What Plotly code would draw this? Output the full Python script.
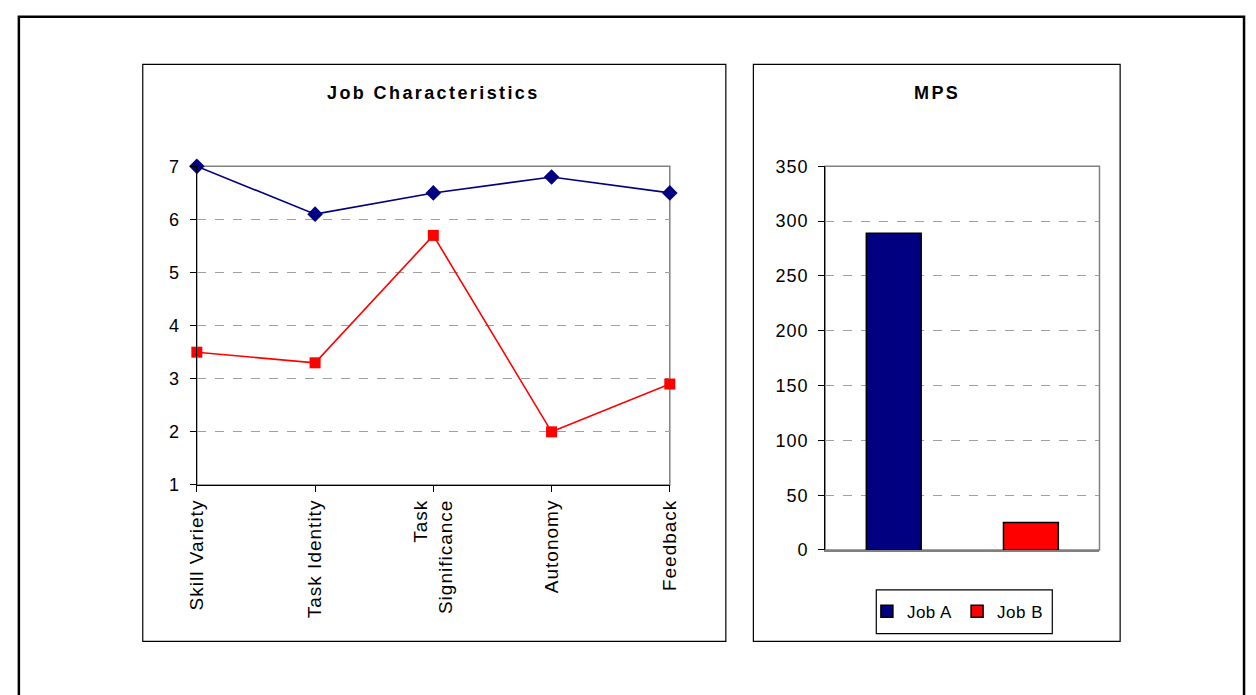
import plotly.graph_objects as go

# Job characteristic scores for each job
dimensions = ["Skill Variety", "Task Identity", "Task<br>Significance", "Autonomy", "Feedback"]
job_a_scores = [7.0, 6.1, 6.5, 6.8, 6.5]
job_b_scores = [3.5, 3.3, 5.7, 2.0, 2.9]

# Motivating potential score for each job
jobs = ["Job A", "Job B"]
mps_values = [289, 25]

W, H = 1256, 695

NAVY = "#000080"
RED = "#FF0000"
GRID = "#A0A0A0"
BORDER = "#808080"
FONT = "Liberation Sans, Arial, sans-serif"


def px_x(v):
    return v / W


def px_y(v):
    return 1 - v / H


def spaced(text, px):
    return f'<span style="letter-spacing:{px}px">{text}</span>'


fig = go.Figure()

positions = list(range(len(dimensions)))
fig.add_trace(go.Scatter(
    x=positions, y=job_a_scores, mode="lines+markers", name="Job A",
    line=dict(color=NAVY, width=1.6),
    marker=dict(symbol="diamond", size=12, color=NAVY),
    cliponaxis=False, showlegend=False, xaxis="x", yaxis="y",
))
fig.add_trace(go.Scatter(
    x=positions, y=job_b_scores, mode="lines+markers", name="Job B",
    line=dict(color=RED, width=1.6),
    marker=dict(symbol="square", size=11, color=RED),
    cliponaxis=False, showlegend=False, xaxis="x", yaxis="y",
))

bar_colors = [NAVY, RED]
for i, (job, val) in enumerate(zip(jobs, mps_values)):
    fig.add_trace(go.Bar(
        x=[i], y=[val], name=spaced(job, 0.5), width=0.4,
        marker=dict(color=bar_colors[i], line=dict(color="black", width=1.5)),
        xaxis="x2", yaxis="y2",
    ))

axis_font = dict(family=FONT, size=18, color="black")
cat_font = dict(family=FONT, size=19, color="black")

left_ticks = list(range(1, 8))
right_ticks = list(range(0, 351, 50))

fig.update_layout(
    width=W, height=H, autosize=False,
    margin=dict(l=0, r=0, t=0, b=0),
    paper_bgcolor="white", plot_bgcolor="white",
    barmode="overlay",
    font=dict(family=FONT, color="black"),
    xaxis=dict(
        domain=[px_x(189), px_x(670)], range=[0, 4],
        tickvals=positions, ticktext=[spaced(d, 1) for d in dimensions],
        tickangle=-90,
        tickfont=cat_font, ticks="outside", ticklen=6, tickcolor="black",
        showline=True, linecolor="black", linewidth=1.2,
        showgrid=False, zeroline=False, fixedrange=True,
        anchor="y",
    ),
    yaxis=dict(
        domain=[px_y(489), px_y(161)], range=[1, 7],
        tickvals=left_ticks, ticktext=[spaced(str(t), 1) for t in left_ticks],
        tickfont=axis_font, ticks="outside", ticklen=6, tickcolor="black",
        ticklabelstandoff=6,
        showline=True, linecolor="black", linewidth=1.2,
        showgrid=True, gridcolor=GRID, griddash="dash", gridwidth=1,
        zeroline=False, anchor="x",
    ),
    xaxis2=dict(
        domain=[px_x(828), px_x(1107)], range=[-0.5, 1.5],
        showticklabels=False, ticks="",
        showline=True, linecolor=BORDER, linewidth=1.5,
        showgrid=False, zeroline=False, anchor="y2",
    ),
    yaxis2=dict(
        domain=[px_y(556), px_y(161)], range=[0, 350],
        tickvals=right_ticks, ticktext=[spaced(str(t), 1) for t in right_ticks],
        tickfont=axis_font, ticks="outside", ticklen=6, tickcolor="black",
        ticklabelstandoff=6,
        showline=True, linecolor="black", linewidth=1.2,
        showgrid=True, gridcolor=GRID, griddash="dash", gridwidth=1,
        zeroline=False, anchor="x2",
    ),
    legend=dict(
        orientation="h", x=px_x(963), y=px_y(619.5),
        xanchor="center", yanchor="middle",
        borderwidth=0, bgcolor="rgba(0,0,0,0)",
        font=dict(family=FONT, size=17, color="black"),
        itemwidth=30, tracegroupgap=0,
    ),
)

shapes = [
    # outer frame
    dict(type="rect", xref="paper", yref="paper",
         x0=px_x(8), x1=px_x(1254), y0=px_y(720), y1=px_y(7),
         line=dict(color="black", width=2.5)),
    # chart panels
    dict(type="rect", xref="paper", yref="paper",
         x0=px_x(134), x1=px_x(727), y0=px_y(650), y1=px_y(56),
         line=dict(color="black", width=1.2)),
    dict(type="rect", xref="paper", yref="paper",
         x0=px_x(755), x1=px_x(1128), y0=px_y(650), y1=px_y(56),
         line=dict(color="black", width=1.2)),
    # legend box
    dict(type="rect", xref="paper", yref="paper",
         x0=px_x(880), x1=px_x(1059), y0=px_y(642), y1=px_y(597),
         line=dict(color="black", width=1.2)),
    # plot-area borders
    dict(type="rect", xref="x domain", yref="y domain", x0=0, x1=1, y0=0, y1=1,
         line=dict(color=BORDER, width=1.5), layer="below"),
    dict(type="rect", xref="x2 domain", yref="y2 domain", x0=0, x1=1, y0=0, y1=1,
         line=dict(color=BORDER, width=1.5), layer="below"),
]
fig.update_layout(shapes=shapes)

title_font = dict(family=FONT, size=18, color="black", weight="bold")
fig.add_annotation(text=spaced("Job Characteristics", 2.4), xref="paper", yref="paper",
                   x=px_x(430), y=px_y(85), showarrow=False, font=title_font,
                   xanchor="center", yanchor="middle")
fig.add_annotation(text=spaced("MPS", 2.4), xref="paper", yref="paper",
                   x=px_x(942), y=px_y(85), showarrow=False, font=title_font,
                   xanchor="center", yanchor="middle")

fig.write_html("out.html")
